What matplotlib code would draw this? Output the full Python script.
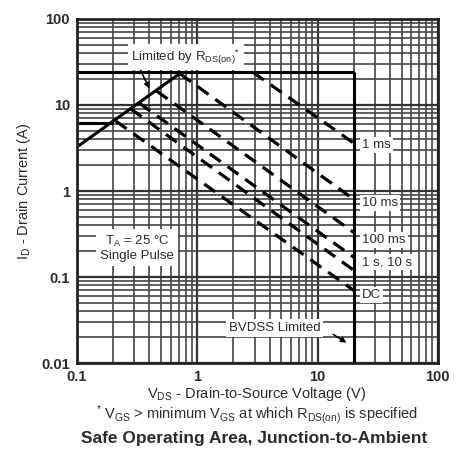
import matplotlib
matplotlib.use('Agg')
import matplotlib.pyplot as plt
from matplotlib.ticker import LogLocator, NullFormatter, FixedLocator

plt.rcParams['font.family'] = ['Liberation Sans', 'DejaVu Sans']
plt.rcParams['mathtext.fontset'] = 'custom'
plt.rcParams['mathtext.rm'] = 'Liberation Sans'
plt.rcParams['mathtext.it'] = 'Liberation Sans:italic'
plt.rcParams['mathtext.bf'] = 'Liberation Sans:bold'

txt = '#2b2b2b'

# limit lines (V, A)
top_v = [0.1, 20]
top_i = [24, 24]
bv_v = [20, 20]
bv_i = [24, 0.01]
rds_v = [0.1, 0.74]
rds_i = [3.25, 24]
low_v = [0.1, 0.2]
low_i = [6.2, 6.2]

# pulse lines: start point on the limit, end at 20 V
pulses = ['1 ms', '10 ms', '100 ms', '1 s', '10 s', 'DC']
v_start = [2.9, 0.72, 0.46, 0.33, 0.28, 0.21]
i_start = [24, 23, 14.5, 10.5, 9.0, 6.5]
v_end = 20
i_end = [3.6, 0.8, 0.33, 0.17, 0.12, 0.07]

# right-hand labels
right_labels = ['1 ms', '10 ms', '100 ms', '1 s, 10 s', 'DC']
right_y = [3.43, 0.72, 0.27, 0.149, 0.062]

xticks = [0.1, 1, 10, 100]
xtick_labels = ['0.1', '1', '10', '100']
yticks = [0.01, 0.1, 1, 10, 100]
ytick_labels = ['0.01', '0.1', '1', '10', '100']

fig = plt.figure(figsize=(4.58, 4.5), dpi=100)
ax = fig.add_axes([0.168, 0.193, 0.788, 0.765])
ax.set_xscale('log')
ax.set_yscale('log')
ax.set_xlim(0.1, 100)
ax.set_ylim(0.01, 100)

ax.xaxis.set_minor_locator(LogLocator(base=10, subs=range(2, 10)))
ax.yaxis.set_minor_locator(LogLocator(base=10, subs=range(2, 10)))
ax.xaxis.set_minor_formatter(NullFormatter())
ax.yaxis.set_minor_formatter(NullFormatter())
ax.xaxis.set_major_locator(FixedLocator(xticks))
ax.yaxis.set_major_locator(FixedLocator(yticks))
ax.set_xticklabels(xtick_labels)
ax.set_yticklabels(ytick_labels)
ax.grid(True, which='major', color='#333333', lw=1.6)
ax.grid(True, which='minor', color='#444444', lw=1.2)
ax.set_axisbelow(True)
ax.tick_params(which='both', length=0, labelsize=10.5, colors=txt)
ax.tick_params(axis='x', pad=5)
ax.tick_params(axis='y', pad=5)
for lab in ax.get_xticklabels() + ax.get_yticklabels():
    lab.set_fontweight('bold')
for sp in ax.spines.values():
    sp.set_linewidth(2)
    sp.set_color('#222222')

lk = dict(color='black', lw=2.2, solid_capstyle='butt')
ax.plot(top_v, top_i, **lk)
ax.plot(bv_v, bv_i, **lk)
ax.plot(rds_v, rds_i, **lk)
ax.plot(low_v, low_i, **lk)

for vs, i0, i1 in zip(v_start, i_start, i_end):
    ax.plot([vs, v_end], [i0, i1], color='black', lw=2.3,
            dashes=(4.2, 2.6), dash_capstyle='butt')

bb = dict(facecolor='white', edgecolor='none', pad=1.5)
for lab, y in zip(right_labels, right_y):
    ax.text(23.5, y, lab, ha='left', va='center', fontsize=9.5,
            color=txt, bbox=bb)

ax.text(0.80, 36, r'Limited by R$_{\mathregular{DS(on)}}$$^{*}$', ha='center',
        va='center', fontsize=9.5, color=txt,
        bbox=dict(facecolor='white', edgecolor='none', pad=2.5))
ax.annotate('', xy=(0.41, 14.5), xytext=(0.33, 27),
            arrowprops=dict(arrowstyle='-|>', color='black', lw=1.1,
                            mutation_scale=8))

ax.text(0.315, 0.217, 'T$_{\\mathregular{A}}$ = 25 °C\nSingle Pulse',
        ha='center', va='center', fontsize=9.5, color=txt, linespacing=1.1,
        bbox=dict(facecolor='white', edgecolor='none', pad=3))

ax.text(4.4, 0.0255, 'BVDSS Limited', ha='center', va='center',
        fontsize=9.5, color=txt,
        bbox=dict(facecolor='white', edgecolor='none', pad=2))
ax.annotate('', xy=(18.2, 0.0166), xytext=(12.9, 0.0225),
            arrowprops=dict(arrowstyle='-|>', color='black', lw=1.1,
                            mutation_scale=8))

ax.set_ylabel(r'I$_{\mathregular{D}}$ - Drain Current (A)', fontsize=10.5,
              color=txt, labelpad=6)
fig.text(0.561, 0.125, r'V$_{\mathregular{DS}}$ - Drain-to-Source Voltage (V)',
         ha='center', va='center', fontsize=10.5, color=txt)
fig.text(0.561, 0.079,
         r'$^{*}$ V$_{\mathregular{GS}}$ > minimum V$_{\mathregular{GS}}$ at which R$_{\mathregular{DS(on)}}$ is specified',
         ha='center', va='center', fontsize=10.5, color=txt)
fig.text(0.555, 0.025, 'Safe Operating Area, Junction-to-Ambient',
         ha='center', va='center', fontsize=12.5, fontweight='bold',
         color=txt)

fig.savefig('out.png', dpi=100, facecolor='white')
